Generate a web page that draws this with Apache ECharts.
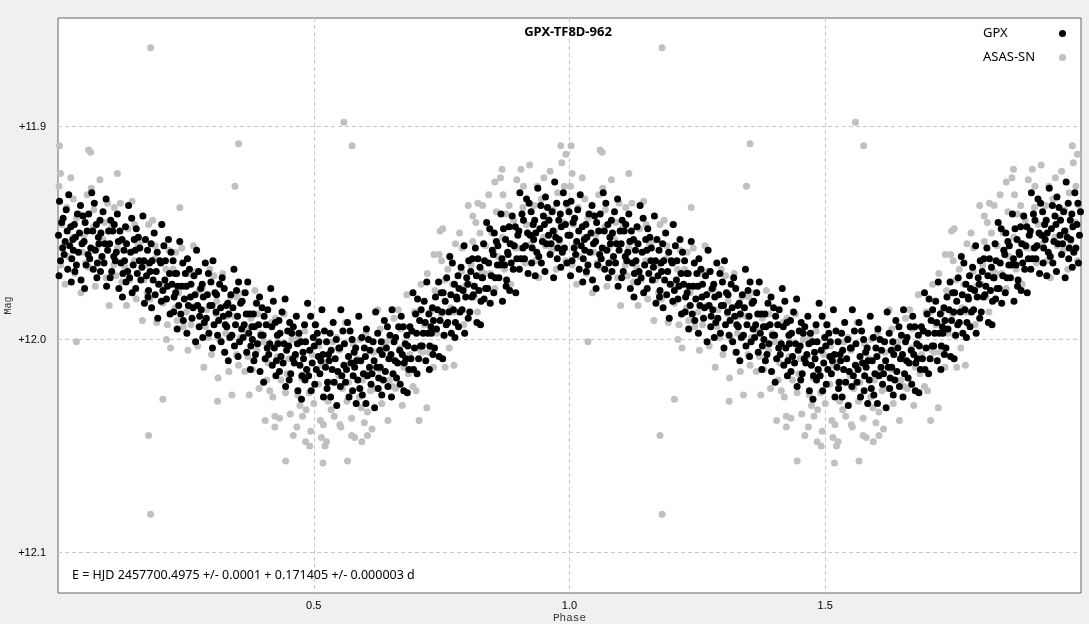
<!DOCTYPE html>
<html><head><meta charset="utf-8">
<script src="https://cdn.jsdelivr.net/npm/echarts@6/dist/echarts.min.js"></script>
<style>html,body{margin:0;padding:0;background:#f0f0f0;}#c{width:1089px;height:624px;}</style>
</head><body><div id="c"></div>
<script>
const chartTitle = 'GPX-TF8D-962';
const ephemeris = 'E = HJD 2457700.4975 +/- 0.0001 + 0.171405 +/- 0.000003 d';
const seriesNames = ['GPX', 'ASAS-SN'];
const xTicks = [0.5, 1.0, 1.5];
const yTicks = [11.9, 12.0, 12.1];
const xRange = [0, 2];
const yRange = [11.849, 12.119];

// GPX observations folded on phase 0..1 (shown twice, phase 0..2)
const gpx = [
[.003,11.935],[.007,11.945],[.001,11.951],[.009,11.957],[.005,11.963],[.002,11.970],
[.016,11.939],[.010,11.943],[.018,11.949],[.014,11.954],[.012,11.960],[.019,11.967],
[.021,11.932],[.025,11.947],[.029,11.953],[.023,11.956],[.027,11.962],[.026,11.973],
[.038,11.941],[.032,11.946],[.034,11.952],[.030,11.958],[.036,11.965],[.033,11.968],
[.044,11.937],[.049,11.942],[.042,11.950],[.047,11.955],[.040,11.959],[.045,11.972],
[.053,11.945],[.057,11.949],[.051,11.954],[.059,11.960],[.055,11.965],[.052,11.976],
[.066,11.931],[.060,11.941],[.068,11.949],[.064,11.957],[.062,11.962],[.069,11.967],
[.071,11.936],[.075,11.946],[.079,11.952],[.073,11.958],[.077,11.964],[.076,11.971],
[.088,11.940],[.082,11.944],[.084,11.950],[.080,11.955],[.086,11.961],[.083,11.968],
[.094,11.934],[.099,11.949],[.092,11.955],[.097,11.958],[.090,11.964],[.095,11.975],
[.103,11.944],[.107,11.949],[.101,11.955],[.109,11.961],[.105,11.968],[.102,11.971],
[.116,11.941],[.110,11.946],[.118,11.954],[.114,11.959],[.112,11.963],[.119,11.976],
[.121,11.949],[.125,11.953],[.129,11.958],[.123,11.964],[.127,11.969],[.126,11.980],
[.138,11.937],[.132,11.947],[.134,11.955],[.130,11.963],[.136,11.968],[.133,11.973],
[.144,11.943],[.149,11.953],[.142,11.959],[.147,11.965],[.140,11.971],[.145,11.978],
[.153,11.948],[.157,11.952],[.151,11.958],[.159,11.963],[.155,11.969],[.152,11.976],
[.166,11.942],[.160,11.957],[.168,11.963],[.164,11.966],[.162,11.972],[.169,11.983],
[.171,11.953],[.175,11.958],[.179,11.964],[.173,11.970],[.177,11.977],[.176,11.980],
[.188,11.950],[.182,11.955],[.184,11.963],[.180,11.968],[.186,11.972],[.183,11.985],
[.194,11.959],[.199,11.963],[.192,11.968],[.197,11.974],[.190,11.979],[.195,11.990],
[.203,11.946],[.207,11.956],[.201,11.964],[.209,11.972],[.205,11.977],[.202,11.982],
[.216,11.953],[.210,11.963],[.218,11.969],[.214,11.975],[.212,11.981],[.219,11.988],
[.221,11.959],[.225,11.963],[.229,11.969],[.223,11.974],[.227,11.980],[.226,11.987],
[.238,11.954],[.232,11.969],[.234,11.975],[.230,11.978],[.236,11.984],[.233,11.995],
[.244,11.964],[.249,11.969],[.242,11.975],[.247,11.981],[.240,11.988],[.245,11.991],
[.253,11.962],[.257,11.967],[.251,11.975],[.259,11.980],[.255,11.984],[.252,11.997],
[.266,11.970],[.260,11.974],[.268,11.979],[.264,11.985],[.262,11.990],[.269,12.001],
[.271,11.958],[.275,11.968],[.279,11.976],[.273,11.984],[.277,11.989],[.276,11.994],
[.288,11.964],[.282,11.974],[.284,11.980],[.280,11.986],[.286,11.992],[.283,11.999],
[.294,11.969],[.299,11.973],[.292,11.979],[.297,11.984],[.290,11.990],[.295,11.997],
[.303,11.963],[.307,11.978],[.301,11.984],[.309,11.987],[.305,11.993],[.302,12.004],
[.316,11.974],[.310,11.979],[.318,11.985],[.314,11.991],[.312,11.998],[.319,12.001],
[.321,11.971],[.325,11.976],[.329,11.984],[.323,11.989],[.327,11.993],[.326,12.006],
[.338,11.979],[.332,11.983],[.334,11.988],[.330,11.994],[.336,11.999],[.333,12.010],
[.344,11.967],[.349,11.977],[.342,11.985],[.347,11.993],[.340,11.998],[.345,12.003],
[.353,11.973],[.357,11.983],[.351,11.989],[.359,11.995],[.355,12.001],[.352,12.008],
[.366,11.978],[.360,11.982],[.368,11.988],[.364,11.993],[.362,11.999],[.369,12.006],
[.371,11.973],[.375,11.988],[.379,11.994],[.373,11.997],[.377,12.003],[.376,12.014],
[.388,11.983],[.382,11.988],[.384,11.994],[.380,12.000],[.386,12.007],[.383,12.010],
[.394,11.980],[.399,11.985],[.392,11.993],[.397,11.998],[.390,12.002],[.395,12.015],
[.403,11.989],[.407,11.993],[.401,11.998],[.409,12.004],[.405,12.009],[.402,12.020],
[.416,11.976],[.410,11.986],[.418,11.994],[.414,12.002],[.412,12.007],[.419,12.012],
[.421,11.982],[.425,11.992],[.429,11.998],[.423,12.004],[.427,12.010],[.426,12.017],
[.438,11.987],[.432,11.991],[.434,11.997],[.430,12.002],[.436,12.008],[.433,12.015],
[.444,11.981],[.449,11.996],[.442,12.002],[.447,12.005],[.440,12.011],[.445,12.022],
[.453,11.992],[.457,11.997],[.451,12.003],[.459,12.009],[.455,12.016],[.452,12.019],
[.466,11.989],[.460,11.994],[.468,12.002],[.464,12.007],[.462,12.011],[.469,12.024],
[.471,11.997],[.475,12.001],[.479,12.006],[.473,12.012],[.477,12.017],[.476,12.028],
[.488,11.983],[.482,11.993],[.484,12.001],[.480,12.009],[.486,12.014],[.483,12.019],
[.494,11.989],[.499,11.999],[.492,12.005],[.497,12.011],[.490,12.017],[.495,12.024],
[.503,11.993],[.507,11.997],[.501,12.003],[.509,12.008],[.505,12.014],[.502,12.021],
[.516,11.986],[.510,12.001],[.518,12.007],[.514,12.010],[.512,12.016],[.519,12.027],
[.521,11.996],[.525,12.001],[.529,12.007],[.523,12.013],[.527,12.020],[.526,12.023],
[.538,11.992],[.532,11.997],[.534,12.005],[.530,12.010],[.536,12.014],[.533,12.027],
[.544,12.000],[.549,12.004],[.542,12.009],[.547,12.015],[.540,12.020],[.545,12.031],
[.553,11.986],[.557,11.996],[.551,12.004],[.559,12.012],[.555,12.017],[.552,12.022],
[.566,11.992],[.560,12.002],[.568,12.008],[.564,12.014],[.562,12.020],[.569,12.027],
[.571,11.996],[.575,12.000],[.579,12.006],[.573,12.011],[.577,12.017],[.576,12.024],
[.588,11.989],[.582,12.004],[.584,12.010],[.580,12.013],[.586,12.019],[.583,12.030],
[.594,11.999],[.599,12.004],[.592,12.010],[.597,12.016],[.590,12.023],[.595,12.026],
[.603,11.995],[.607,12.000],[.601,12.008],[.609,12.013],[.605,12.017],[.602,12.030],
[.616,12.001],[.610,12.005],[.618,12.010],[.614,12.016],[.612,12.021],[.619,12.032],
[.621,11.987],[.625,11.997],[.629,12.005],[.623,12.013],[.627,12.018],[.626,12.023],
[.638,11.991],[.632,12.001],[.634,12.007],[.630,12.013],[.636,12.019],[.633,12.026],
[.644,11.994],[.649,11.998],[.642,12.004],[.647,12.009],[.640,12.015],[.645,12.022],
[.653,11.986],[.657,12.001],[.651,12.007],[.659,12.010],[.655,12.016],[.652,12.027],
[.666,11.994],[.660,11.999],[.668,12.005],[.664,12.011],[.662,12.018],[.669,12.021],
[.671,11.989],[.675,11.994],[.679,12.002],[.673,12.007],[.677,12.011],[.676,12.024],
[.688,11.994],[.682,11.998],[.684,12.003],[.680,12.009],[.686,12.014],[.683,12.025],
[.694,11.978],[.699,11.988],[.692,11.996],[.697,12.004],[.690,12.009],[.695,12.014],
[.703,11.981],[.707,11.991],[.701,11.997],[.709,12.003],[.705,12.009],[.702,12.016],
[.716,11.982],[.710,11.986],[.718,11.992],[.714,11.997],[.712,12.003],[.719,12.010],
[.721,11.973],[.725,11.988],[.729,11.994],[.723,11.997],[.727,12.003],[.726,12.014],
[.738,11.980],[.732,11.985],[.734,11.991],[.730,11.997],[.736,12.004],[.733,12.007],
[.744,11.973],[.749,11.978],[.742,11.986],[.747,11.991],[.740,11.995],[.745,12.008],
[.753,11.978],[.757,11.982],[.751,11.987],[.759,11.993],[.755,11.998],[.752,12.009],
[.766,11.961],[.760,11.971],[.768,11.979],[.764,11.987],[.762,11.992],[.769,11.997],
[.771,11.964],[.775,11.974],[.779,11.980],[.773,11.986],[.777,11.992],[.776,11.999],
[.788,11.966],[.782,11.970],[.784,11.976],[.780,11.981],[.786,11.987],[.783,11.994],
[.794,11.956],[.799,11.971],[.792,11.977],[.797,11.980],[.790,11.986],[.795,11.997],
[.803,11.963],[.807,11.968],[.801,11.974],[.809,11.980],[.805,11.987],[.802,11.990],
[.816,11.957],[.810,11.962],[.818,11.970],[.814,11.975],[.812,11.979],[.819,11.992],
[.821,11.962],[.825,11.966],[.829,11.971],[.823,11.977],[.827,11.982],[.826,11.993],
[.838,11.945],[.832,11.955],[.834,11.963],[.830,11.971],[.836,11.976],[.833,11.981],
[.844,11.948],[.849,11.958],[.842,11.964],[.847,11.970],[.840,11.976],[.845,11.983],
[.853,11.950],[.857,11.954],[.851,11.960],[.859,11.965],[.855,11.971],[.852,11.978],
[.866,11.941],[.860,11.956],[.868,11.962],[.864,11.965],[.862,11.971],[.869,11.982],
[.871,11.948],[.875,11.953],[.879,11.959],[.873,11.965],[.877,11.972],[.876,11.975],
[.888,11.942],[.882,11.947],[.884,11.955],[.880,11.960],[.886,11.964],[.883,11.977],
[.894,11.947],[.899,11.951],[.892,11.956],[.897,11.962],[.890,11.967],[.895,11.978],
[.903,11.931],[.907,11.941],[.901,11.949],[.909,11.957],[.905,11.962],[.902,11.967],
[.916,11.934],[.910,11.944],[.918,11.950],[.914,11.956],[.912,11.962],[.919,11.969],
[.921,11.936],[.925,11.940],[.929,11.946],[.923,11.951],[.927,11.957],[.926,11.964],
[.938,11.929],[.932,11.944],[.934,11.950],[.930,11.953],[.936,11.959],[.933,11.970],
[.944,11.937],[.949,11.942],[.942,11.948],[.947,11.954],[.940,11.961],[.945,11.964],
[.953,11.933],[.957,11.938],[.951,11.946],[.959,11.951],[.955,11.955],[.952,11.968],
[.966,11.940],[.960,11.944],[.968,11.949],[.964,11.955],[.962,11.960],[.969,11.971],
[.971,11.926],[.975,11.936],[.979,11.944],[.973,11.952],[.977,11.957],[.976,11.962],
[.988,11.931],[.982,11.941],[.984,11.947],[.980,11.953],[.986,11.959],[.983,11.966],
[.994,11.936],[.999,11.940],[.992,11.946],[.997,11.951],[.990,11.957],[.995,11.964]
];

// ASAS-SN observations folded on phase 0..1
const asassn = [
[.002,11.928],[.008,11.946],[.005,11.965],[.017,11.938],[.011,11.956],[.014,11.974],
[.025,11.924],[.029,11.952],[.020,11.961],[.030,11.934],[.036,11.943],[.033,11.969],
[.042,11.941],[.048,11.959],[.045,11.978],[.057,11.932],[.051,11.951],[.054,11.964],
[.065,11.929],[.069,11.947],[.060,11.966],[.070,11.939],[.076,11.957],[.073,11.975],
[.082,11.925],[.088,11.953],[.085,11.962],[.097,11.936],[.091,11.945],[.094,11.971],
[.105,11.947],[.109,11.965],[.100,11.984],[.110,11.938],[.116,11.957],[.113,11.970],
[.122,11.936],[.128,11.954],[.125,11.973],[.137,11.948],[.131,11.966],[.134,11.984],
[.145,11.935],[.149,11.963],[.140,11.972],[.150,11.946],[.156,11.955],[.153,11.981],
[.162,11.954],[.168,11.972],[.165,11.991],[.177,11.946],[.171,11.965],[.174,11.978],
[.185,11.944],[.189,11.962],[.180,11.981],[.190,11.956],[.196,11.974],[.193,11.992],
[.202,11.946],[.208,11.974],[.205,11.983],[.217,11.958],[.211,11.967],[.214,11.993],
[.225,11.967],[.229,11.985],[.220,12.004],[.230,11.959],[.236,11.978],[.233,11.991],
[.242,11.957],[.248,11.975],[.245,11.994],[.257,11.969],[.251,11.987],[.254,12.005],
[.265,11.956],[.269,11.984],[.260,11.993],[.270,11.968],[.276,11.977],[.273,12.003],
[.282,11.976],[.288,11.994],[.285,12.013],[.297,11.967],[.291,11.986],[.294,11.999],
[.305,11.970],[.309,11.988],[.300,12.007],[.310,11.982],[.316,12.000],[.313,12.018],
[.322,11.969],[.328,11.997],[.325,12.006],[.337,11.980],[.331,11.989],[.334,12.015],
[.345,11.989],[.349,12.007],[.340,12.026],[.350,11.980],[.356,11.999],[.353,12.012],
[.362,11.978],[.368,11.996],[.365,12.015],[.377,11.990],[.371,12.008],[.374,12.026],
[.385,11.977],[.389,12.005],[.380,12.014],[.390,11.988],[.396,11.997],[.393,12.023],
[.402,12.001],[.408,12.019],[.405,12.038],[.417,11.992],[.411,12.011],[.414,12.024],
[.425,11.990],[.429,12.008],[.420,12.027],[.430,12.001],[.436,12.019],[.433,12.037],
[.442,11.988],[.448,12.016],[.445,12.025],[.457,12.000],[.451,12.009],[.454,12.035],
[.465,12.008],[.469,12.026],[.460,12.045],[.470,11.999],[.476,12.018],[.473,12.031],
[.482,11.996],[.488,12.014],[.485,12.033],[.497,12.007],[.491,12.025],[.494,12.043],
[.505,11.993],[.509,12.021],[.500,12.030],[.510,12.003],[.516,12.012],[.513,12.038],
[.522,12.011],[.528,12.029],[.525,12.048],[.537,12.001],[.531,12.020],[.534,12.033],
[.545,11.999],[.549,12.017],[.540,12.036],[.550,12.005],[.556,12.023],[.553,12.041],
[.562,11.992],[.568,12.020],[.565,12.029],[.577,12.002],[.571,12.011],[.574,12.037],
[.585,12.009],[.589,12.027],[.580,12.046],[.590,12.000],[.596,12.019],[.593,12.032],
[.602,11.997],[.608,12.015],[.605,12.034],[.617,12.006],[.611,12.024],[.614,12.042],
[.625,11.986],[.629,12.014],[.620,12.023],[.630,11.995],[.636,12.004],[.633,12.030],
[.642,12.001],[.648,12.019],[.645,12.038],[.657,11.990],[.651,12.009],[.654,12.022],
[.665,11.986],[.669,12.004],[.660,12.023],[.670,11.995],[.676,12.013],[.673,12.031],
[.682,11.979],[.688,12.007],[.685,12.016],[.697,11.987],[.691,11.996],[.694,12.022],
[.705,11.987],[.709,12.005],[.700,12.024],[.710,11.974],[.716,11.993],[.713,12.006],
[.722,11.969],[.728,11.987],[.725,12.006],[.737,11.977],[.731,11.995],[.734,12.013],
[.745,11.960],[.749,11.988],[.740,11.997],[.750,11.963],[.756,11.972],[.753,11.998],
[.762,11.967],[.768,11.985],[.765,12.004],[.777,11.955],[.771,11.974],[.774,11.987],
[.785,11.950],[.789,11.968],[.780,11.987],[.790,11.957],[.796,11.975],[.793,11.993],
[.802,11.937],[.808,11.965],[.805,11.974],[.817,11.945],[.811,11.954],[.814,11.980],
[.825,11.950],[.829,11.968],[.820,11.987],[.830,11.937],[.836,11.956],[.833,11.969],
[.842,11.932],[.848,11.950],[.845,11.969],[.857,11.940],[.851,11.958],[.854,11.976],
[.865,11.924],[.869,11.952],[.860,11.961],[.870,11.932],[.876,11.941],[.873,11.967],
[.882,11.937],[.888,11.955],[.885,11.974],[.897,11.925],[.891,11.944],[.894,11.957],
[.905,11.920],[.909,11.938],[.900,11.957],[.910,11.928],[.916,11.946],[.913,11.964],
[.922,11.918],[.928,11.946],[.925,11.955],[.937,11.928],[.931,11.937],[.934,11.963],
[.945,11.934],[.949,11.952],[.940,11.971],[.950,11.924],[.956,11.943],[.953,11.956],
[.962,11.921],[.968,11.939],[.965,11.958],[.977,11.931],[.971,11.949],[.974,11.967],
[.985,11.917],[.989,11.945],[.980,11.954],[.990,11.928],[.996,11.937],[.993,11.963],
// scattered ASAS-SN points away from the main band
[.181,11.863],[.559,11.898],[.575,11.909],[.353,11.908],[.346,11.928],[.003,11.909],
[.060,11.911],[.064,11.912],[.116,11.922],[.005,11.922],[.238,11.938],[.205,12.028],
[.177,12.045],[.181,12.082],[.036,12.001],[.212,12.000],[.445,12.057],[.424,12.041],
[.424,12.036],[.312,12.029],[.484,12.048],[.492,12.050],[.467,12.041],[.478,12.036],
[.518,12.058],[.566,12.057],[.522,12.050],[.594,12.048],[.574,12.045],[.605,12.045],
[.599,12.039],[.706,12.038],[.721,12.032],[.551,12.040],[.519,12.040],[.515,12.046],
[.983,11.909],[.993,11.913],[.868,11.920],[.854,11.926],[.821,11.936],[.811,11.942],
[.752,11.948],[.757,12.013],[.774,12.012],[.747,11.949],[.735,11.960]
];

// show two cycles: phase p and p + 1
const twoCycles = arr => arr.concat(arr.map(d => [d[0] + 1, d[1]]));

const tickFont = 'Liberation Sans, Arial, sans-serif';
const chart = echarts.init(document.getElementById('c'), null, {renderer: 'canvas'});
chart.setOption({
  animation: false,
  backgroundColor: '#f0f0f0',
  grid: {left: 58, top: 18, right: 8, bottom: 31, outerBoundsMode: 'none', containLabel: false,
         show: true, backgroundColor: '#ffffff', borderColor: '#646464', borderWidth: 1},
  legend: {
    data: seriesNames, orient: 'vertical', left: 983, top: 27, padding: 0, align: 'right',
    icon: 'circle', itemWidth: 7, itemHeight: 7, itemGap: 11,
    formatter: name => '{t|' + name + '}',
    textStyle: {fontFamily: 'Noto Sans, sans-serif', fontSize: 13, color: '#000',
      rich: {t: {width: 71, align: 'left', fontFamily: 'Noto Sans, sans-serif', fontSize: 13, color: '#000'}}}
  },
  xAxis: {
    type: 'value', min: xRange[0], max: xRange[1],
    name: 'Phase', nameLocation: 'middle', nameGap: 20, nameMoveOverlap: false,
    nameTextStyle: {fontFamily: 'Liberation Mono, monospace', fontSize: 11, color: '#333'},
    axisLine: {show: false},
    axisTick: {show: false, customValues: xTicks},
    axisLabel: {customValues: xTicks, margin: 7, fontFamily: tickFont, fontSize: 11, color: '#000', formatter: v => v.toFixed(1)},
    splitLine: {show: true, lineStyle: {color: '#c8c8c8', type: [4, 3], width: 1}}
  },
  yAxis: {
    type: 'value', inverse: true, min: yRange[0], max: yRange[1],
    name: 'Mag', nameLocation: 'middle', nameGap: 45, nameRotate: 90, nameMoveOverlap: false,
    nameTextStyle: {fontFamily: 'Liberation Mono, monospace', fontSize: 10, color: '#333'},
    axisLine: {show: false},
    axisTick: {show: false, customValues: yTicks},
    axisLabel: {customValues: yTicks, margin: 12, fontFamily: tickFont, fontSize: 11, color: '#000', formatter: v => '+' + v.toFixed(1)},
    splitLine: {show: true, lineStyle: {color: '#c8c8c8', type: [4, 3], width: 1}}
  },
  graphic: [
    {type: 'text', style: {text: chartTitle, x: 568, y: 32, align: 'center', verticalAlign: 'middle', font: 'bold 13px "Noto Sans", sans-serif', fill: '#000'}, z: 10},
    {type: 'text', style: {text: ephemeris, x: 72, y: 575, align: 'left', verticalAlign: 'middle', font: '12.5px "Noto Sans", sans-serif', fill: '#000'}, z: 10}
  ],
  series: [
    {name: seriesNames[0], type: 'scatter', data: twoCycles(gpx), symbol: 'circle', symbolSize: 7, itemStyle: {color: '#000000', opacity: 1}, z: 3},
    {name: seriesNames[1], type: 'scatter', data: twoCycles(asassn), symbol: 'circle', symbolSize: 7, itemStyle: {color: '#c0c0c0', opacity: 1}, z: 2}
  ]
});
</script></body></html>
